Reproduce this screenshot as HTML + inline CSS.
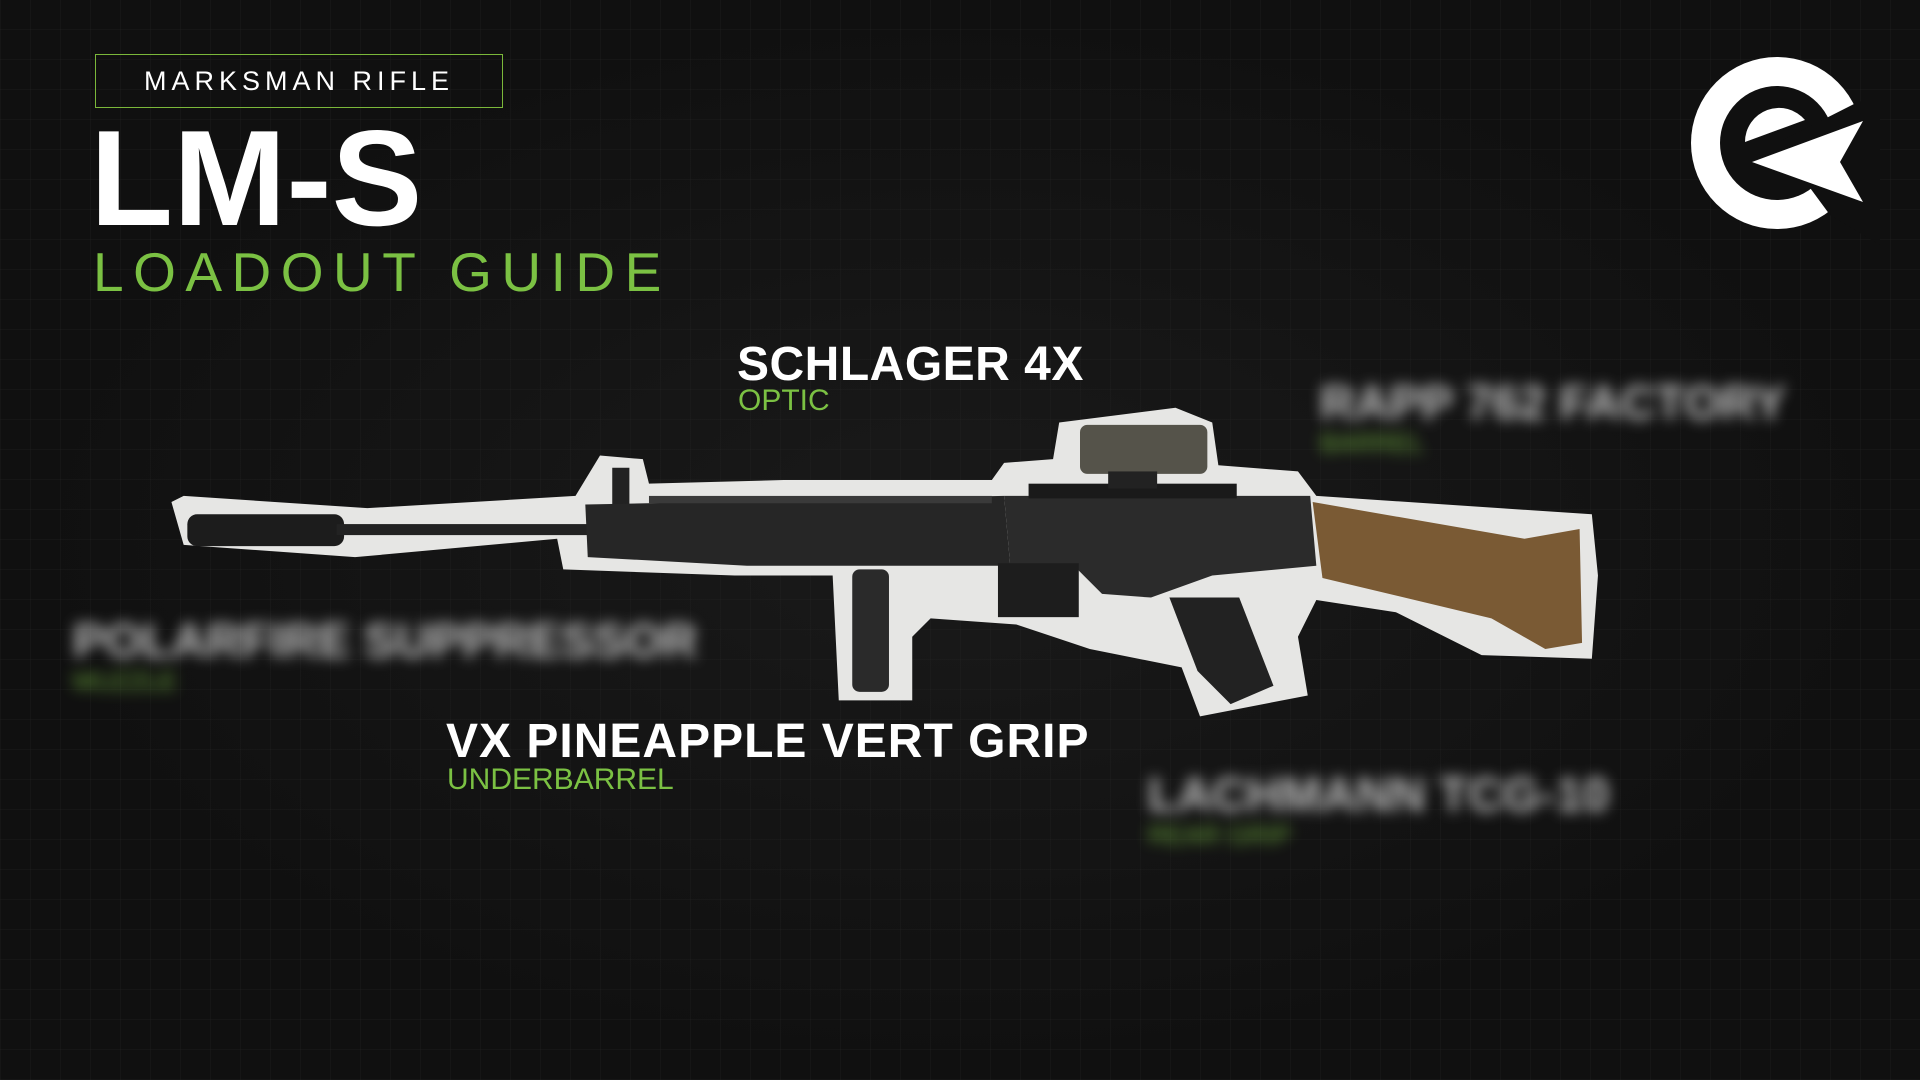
<!DOCTYPE html>
<html><head><meta charset="utf-8"><style>
html,body{margin:0;padding:0;width:1920px;height:1080px;overflow:hidden;background:#111111;}
body{position:relative;font-family:"Liberation Sans",sans-serif;
background:
radial-gradient(ellipse at 50% 50%, rgba(40,40,40,0.4), rgba(0,0,0,0) 70%),
repeating-linear-gradient(0deg, rgba(255,255,255,0.025) 0 1px, transparent 1px 30px),
repeating-linear-gradient(90deg, rgba(255,255,255,0.025) 0 1px, transparent 1px 30px),
#101010;}
.t{position:absolute;white-space:nowrap;}
.box{position:absolute;left:95px;top:54px;width:408px;height:54px;border:1.5px solid #7bb83a;box-sizing:border-box;color:#fff;font-size:27px;letter-spacing:5px;text-align:center;line-height:52px;}
.big{left:90px;top:110px;font-size:136px;font-weight:bold;color:#fff;letter-spacing:0px;line-height:1;}
.lg{left:93px;top:245px;font-size:55px;color:#7bc143;letter-spacing:9.5px;line-height:1;}
.n{font-weight:bold;color:#fff;font-size:48px;line-height:1;}
.s{color:#7bc143;font-size:30px;line-height:1;}
.bl{filter:blur(7px);opacity:.85}
</style></head><body>
<div class="box">MARKSMAN RIFLE</div>
<div class="t big">LM-S</div>
<div class="t lg">LOADOUT GUIDE</div>

<svg style="position:absolute;left:1680px;top:45px" width="200" height="200" viewBox="0 0 200 200">
<circle cx="97" cy="98" r="86" fill="#fff"/>
<circle cx="97" cy="98" r="57" fill="#101010"/>
<polygon points="97,98 176,58 200,50 200,200 150,170" fill="#101010"/>
<path d="M65,97 A34,34 0 0 1 125,75 Z" fill="#fff"/>
<polygon points="72,117 183,76 160,117 183,157" fill="#fff"/>
</svg>

<svg style="position:absolute;left:0;top:0" width="1920" height="1080" viewBox="0 0 1568 882" preserveAspectRatio="none">
<polygon fill="#e6e6e4" points="140,410 150,405 300,415 470,405 490,372 525,375 530,395 640,392 810,392 820,378 860,375 865,345 960,333 990,345 995,380 1060,385 1075,405 1300,420 1305,470 1300,538 1210,535 1140,500 1075,490 1060,520 1068,568 980,585 965,545 890,530 830,510 760,505 745,520 745,572 685,572 680,470 600,470 460,465 455,440 290,455 150,445"/>
<rect x="153" y="420" width="128" height="26" rx="8" fill="#1c1c1c"/>
<rect x="275" y="428" width="210" height="9" fill="#222"/>
<rect x="500" y="382" width="14" height="30" fill="#222"/>
<polygon fill="#262626" points="478,412 820,405 825,462 610,462 480,455"/>
<rect x="530" y="405" width="280" height="6" fill="#3a3a3a"/>
<polygon fill="#2b2b2b" points="820,405 1070,405 1075,462 990,470 940,488 900,485 880,465 825,462"/>
<rect x="840" y="395" width="170" height="12" fill="#1a1a1a"/>
<rect x="815" y="460" width="66" height="44" fill="#1d1d1d"/>
<rect x="696" y="465" width="30" height="100" rx="6" fill="#2a2a2a"/>
<polygon fill="#222" points="955,488 1012,488 1040,560 1005,575 978,548"/>
<polygon fill="#7a5a34" points="1072,410 1245,440 1290,432 1292,525 1262,530 1218,505 1080,472"/>
<rect x="882" y="347" width="104" height="40" rx="6" fill="#55534a"/>
<rect x="905" y="385" width="40" height="14" fill="#222"/>
</svg>

<div class="t n" style="left:737px;top:341px;letter-spacing:0.5px">SCHLAGER 4X</div>
<div class="t s" style="left:738px;top:386px">OPTIC</div>
<div class="t n" style="left:446px;top:718px;letter-spacing:1px">VX PINEAPPLE VERT GRIP</div>
<div class="t s" style="left:447px;top:765px">UNDERBARREL</div>

<div class="t n bl" style="left:1320px;top:380px;color:#ddd">RAPP 762 FACTORY</div>
<div class="t s bl" style="left:1320px;top:430px;font-size:26px">BARREL</div>
<div class="t n bl" style="left:73px;top:618px;color:#ddd">POLARFIRE SUPPRESSOR</div>
<div class="t s bl" style="left:73px;top:668px;font-size:26px">MUZZLE</div>
<div class="t n bl" style="left:1148px;top:772px;color:#ddd">LACHMANN TCG-10</div>
<div class="t s bl" style="left:1148px;top:822px;font-size:26px">REAR GRIP</div>
</body></html>
